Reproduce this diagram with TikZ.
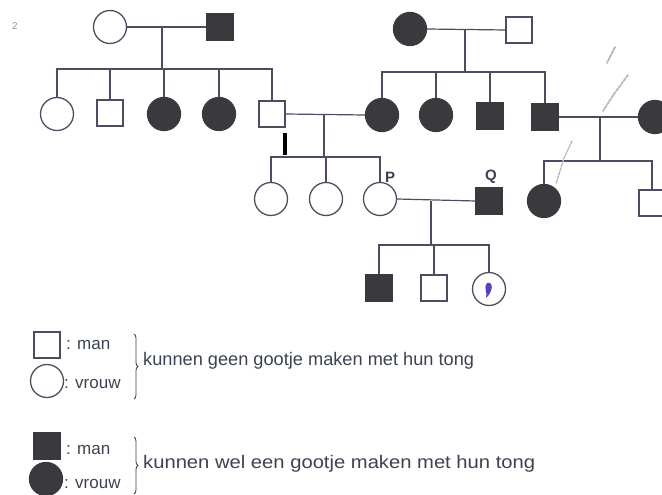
\documentclass[tikz,border=0pt]{standalone}
\usepackage{fontspec}
\setmainfont{Liberation Sans}
\usetikzlibrary{decorations.pathreplacing}
\definecolor{ln}{HTML}{4A4E60}
\definecolor{fl}{HTML}{3A3A3E}
\definecolor{tx}{HTML}{3C4252}
\definecolor{ink}{HTML}{5A3FC0}
\tikzset{
  pline/.style={draw=ln, line width=1.2pt},
  male/.style={draw=ln, line width=1.3pt, rectangle, minimum size=26pt, inner sep=0pt, fill=white},
  female/.style={draw=ln, line width=1.3pt, circle, minimum size=33pt, inner sep=0pt, fill=white},
  aff/.style={fill=fl, draw=fl},
  lbl/.style={font=\fontsize{17}{19}\selectfont, text=tx, inner sep=0pt, anchor=base west},
  desc/.style={font=\fontsize{18.2}{20}\selectfont, text=tx, inner sep=0pt, anchor=base west},
  pq/.style={font=\bfseries\fontsize{15}{17}\selectfont, text=tx, inner sep=0pt},
  brc/.style={draw=tx, line width=0.9pt, decorate, decoration={brace, amplitude=4pt}},
  scrib/.style={draw=gray!55, line width=1.8pt, line cap=round, dash pattern=on 3pt off 1.2pt}
}
\begin{document}
\begin{tikzpicture}[x=1pt, y=-1pt]
\useasboundingbox (0,0) rectangle (662,495);

% small margin mark
\node[font=\fontsize{10}{12}\selectfont, text=ln!60, inner sep=0pt] (two) at (15,26) {2};

% ---------- Generation I ----------
\node[female] (a1) at (110,27) {};
\node[male, aff] (a2) at (220,27) {};
\node[female, aff] (c1) at (410,29) {};
\node[male] (c2) at (519,30) {};

% ---------- Generation II ----------
\node[female] (b1) at (57,114) {};
\node[male] (b2) at (110,113) {};
\node[female, aff] (b3) at (164,114) {};
\node[female, aff] (b4) at (219,114) {};
\node[male] (b5) at (272,114) {};

\node[female, aff] (d1) at (382,115) {};
\node[female, aff] (d2) at (436,115) {};
\node[male, aff] (d3) at (490,116) {};
\node[male, aff] (d4) at (545,117) {};
\node[female, aff] (e1) at (655,117) {};

% ---------- Generation III ----------
\node[female] (f1) at (271,199) {};
\node[female] (f2) at (326,199) {};
\node[female] (f3) at (380,199) {};
\node[male, aff] (g1) at (489,201) {};
\node[female, aff] (i1) at (544,201) {};
\node[male] (i2) at (652,203) {};
\node[pq] (P) at (390,177) {P};
\node[pq] (Q) at (491,177) {Q};

% ---------- Generation IV ----------
\node[male, aff] (h1) at (379,288) {};
\node[male] (h2) at (434,288) {};
\node[female] (h3) at (489,289) {};

% ---------- couple / sibling coordinates ----------
\coordinate (m1) at (162,27);  \coordinate (s1) at (162,69);
\coordinate (m2) at (465,30);  \coordinate (s2) at (465,72);
\coordinate (m3) at (324,115); \coordinate (s3) at (324,157);
\coordinate (m4) at (600,117); \coordinate (s4) at (600,161);
\coordinate (m5) at (431,201); \coordinate (s5) at (431,245);

% ---------- connectors ----------
\begin{scope}[pline]
  % family 1
  \draw (a1.east) -- (a2.west);
  \draw (m1) -- (s1);
  \draw (b1.north) |- (b5.north |- s1) -- (b5.north);
  \draw (b2.north |- s1) -- (b2.north);
  \draw (b3.north |- s1) -- (b3.north);
  \draw (b4.north |- s1) -- (b4.north);
  % family 2
  \draw (c1.east) -- (c2.west);
  \draw (m2) -- (s2);
  \draw (d1.north) |- (d4.north |- s2) -- (d4.north);
  \draw (d2.north |- s2) -- (d2.north);
  \draw (d3.north |- s2) -- (d3.north);
  % marriage b5 - d1
  \draw (b5.east) -- (d1.west);
  \draw (m3) -- (s3);
  \draw (f1.north) |- (f3.north |- s3) -- (f3.north);
  \draw (f2.north |- s3) -- (f2.north);
  % marriage d4 - e1
  \draw (d4.east) -- (e1.west);
  \draw (m4) -- (s4);
  \draw (i1.north) |- (i2.north |- s4) -- (i2.north);
  % marriage P - Q
  \draw (f3.east) -- (g1.west);
  \draw (m5) -- (s5);
  \draw (h1.north) |- (h3.north |- s5) -- (h3.north);
  \draw (h2.north |- s5) -- (h2.north);
\end{scope}

% black bar mark
\fill[black] (283,133) rectangle (287,155);

% pen scribbles
\draw[scrib] (615,47) -- (607,63);
\draw[scrib] (628,75) -- (614,94) -- (603,111);
\draw[scrib, line width=1.3pt] (572,141) -- (564,158) -- (556,184);
% ink mark inside circle
\fill[ink] (487,283) .. controls (494,281) and (493,292) .. (486,298)
           .. controls (488,292) and (483,288) .. cycle;

% ---------- legend ----------
\node[male] (l1) at (47,345) {};
\node[female] (l2) at (47,381) {};
\node[lbl] (t1) at (66,349) {: man};
\node[lbl] (t2) at (64,388) {: vrouw};
\draw[brc] (134,334) -- (134,399);
\node[desc] (t3) at (143,365) {kunnen geen gootje maken met hun tong};

\node[male, aff] (l3) at (47,446) {};
\node[female, aff] (l4) at (46,479) {};
\node[lbl] (t4) at (66,454) {: man};
\node[lbl] (t5) at (64,488) {: vrouw};
\draw[brc] (134,437) -- (134,494);
\node[desc] (t6) at (143,468) {\scalebox{1.11}[1]{kunnen wel een gootje maken met hun tong}};
\end{tikzpicture}
\end{document}
